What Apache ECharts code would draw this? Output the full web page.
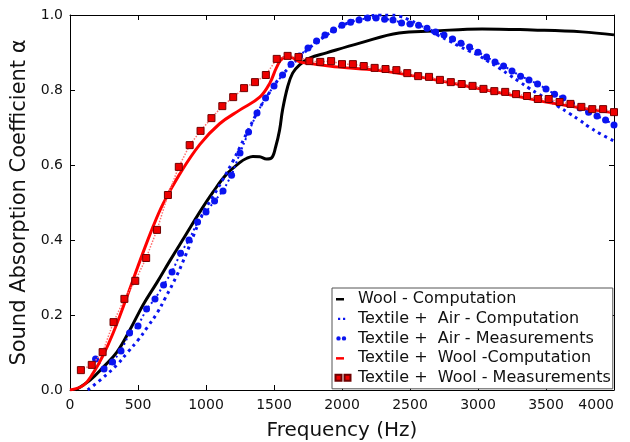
<!DOCTYPE html>
<html>
<head>
<meta charset="utf-8">
<script src="https://cdn.jsdelivr.net/npm/echarts@6/dist/echarts.min.js"></script>
<style>html,body{margin:0;padding:0;background:#fff}#c{width:630px;height:442px}</style>
</head>
<body>
<div id="c"></div>
<script>
// ---- data ----
const xTicks = [0, 500, 1000, 1500, 2000, 2500, 3000, 3500, 4000];
const yTicks = [0.0, 0.2, 0.4, 0.6, 0.8, 1.0];

const seriesNames = [
  "Wool - Computation",
  "Textile +  Air - Computation",
  "Textile +  Air - Measurements",
  "Textile +  Wool -Computation",
  "Textile +  Wool - Measurements"
];

// Wool - Computation
const freqWool = [40, 150, 240, 345, 440, 536, 640, 735, 845, 955, 1050, 1150, 1250, 1300, 1345, 1395, 1445, 1482, 1512, 1541, 1563, 1600, 1637, 1688, 1761, 1886, 2130, 2420, 2665, 3030, 3400, 3765, 4000];
const alphaWool = [0, 0.027, 0.059, 0.101, 0.16, 0.226, 0.287, 0.345, 0.41, 0.475, 0.527, 0.575, 0.607, 0.618, 0.623, 0.622, 0.616, 0.619, 0.648, 0.693, 0.747, 0.808, 0.845, 0.867, 0.885, 0.899, 0.925, 0.952, 0.957, 0.963, 0.96, 0.955, 0.947];

// Textile + Air - Computation
const freqTA = [130, 240, 345, 425, 500, 570, 640, 700, 785, 860, 915, 975, 1050, 1125, 1195, 1250, 1320, 1395, 1470, 1540, 1615, 1690, 1760, 1835, 1910, 1980, 2055, 2130, 2200, 2275, 2350, 2420, 2495, 2570, 2640, 2715, 2790, 2860, 2935, 3010, 3080, 3155, 3230, 3305, 3375, 3450, 3525, 3595, 3670, 3745, 3815, 3890, 4000];
const alphaTA = [0, 0.032, 0.067, 0.101, 0.133, 0.168, 0.205, 0.245, 0.305, 0.368, 0.418, 0.47, 0.515, 0.562, 0.608, 0.648, 0.7, 0.752, 0.795, 0.832, 0.861, 0.888, 0.912, 0.933, 0.952, 0.968, 0.981, 0.992, 0.997, 1.0, 1.0, 0.997, 0.987, 0.973, 0.96, 0.944, 0.931, 0.917, 0.904, 0.891, 0.875, 0.859, 0.84, 0.822, 0.805, 0.788, 0.772, 0.755, 0.738, 0.72, 0.702, 0.685, 0.664];

// Textile + Air - Measurements
const freqTAm = [188, 250, 313, 375, 438, 500, 563, 625, 688, 750, 813, 875, 938, 1000, 1063, 1125, 1188, 1250, 1313, 1375, 1438, 1500, 1563, 1625, 1688, 1750, 1813, 1875, 1938, 2000, 2063, 2125, 2188, 2250, 2313, 2375, 2438, 2500, 2563, 2625, 2688, 2750, 2813, 2875, 2938, 3000, 3063, 3125, 3188, 3250, 3313, 3375, 3438, 3500, 3563, 3625, 3688, 3750, 3813, 3875, 3938, 4000];
const alphaTAm = [0.083, 0.056, 0.075, 0.104, 0.152, 0.171, 0.216, 0.243, 0.28, 0.315, 0.365, 0.4, 0.448, 0.475, 0.504, 0.531, 0.573, 0.632, 0.688, 0.739, 0.779, 0.811, 0.84, 0.869, 0.891, 0.912, 0.931, 0.947, 0.96, 0.973, 0.981, 0.987, 0.992, 0.992, 0.989, 0.987, 0.979, 0.976, 0.973, 0.965, 0.955, 0.947, 0.936, 0.925, 0.915, 0.901, 0.888, 0.875, 0.864, 0.851, 0.837, 0.827, 0.816, 0.803, 0.789, 0.779, 0.763, 0.752, 0.741, 0.731, 0.72, 0.707];

// Textile + Wool - Computation
const freqTW = [0, 100, 170, 240, 315, 420, 515, 610, 685, 805, 955, 1100, 1250, 1395, 1470, 1520, 1565, 1615, 1690, 1760, 1980, 2250, 2570, 3060, 3545, 4000];
const alphaTW = [0, 0.013, 0.045, 0.09, 0.15, 0.25, 0.345, 0.435, 0.497, 0.575, 0.655, 0.71, 0.747, 0.781, 0.819, 0.861, 0.885, 0.888, 0.875, 0.871, 0.861, 0.853, 0.835, 0.8, 0.765, 0.739];

// Textile + Wool - Measurements
const freqTWm = [80, 160, 240, 320, 400, 480, 560, 640, 720, 800, 880, 960, 1040, 1120, 1200, 1280, 1360, 1440, 1520, 1600, 1680, 1760, 1840, 1920, 2000, 2080, 2160, 2240, 2320, 2400, 2480, 2560, 2640, 2720, 2800, 2880, 2960, 3040, 3120, 3200, 3280, 3360, 3440, 3520, 3600, 3680, 3760, 3840, 3920, 4000];
const alphaTWm = [0.053, 0.067, 0.101, 0.181, 0.243, 0.291, 0.352, 0.427, 0.52, 0.595, 0.653, 0.691, 0.725, 0.757, 0.781, 0.805, 0.821, 0.84, 0.883, 0.891, 0.888, 0.877, 0.875, 0.877, 0.869, 0.869, 0.864, 0.859, 0.856, 0.853, 0.845, 0.837, 0.835, 0.827, 0.821, 0.816, 0.811, 0.803, 0.797, 0.795, 0.789, 0.784, 0.776, 0.776, 0.768, 0.763, 0.755, 0.749, 0.749, 0.741];

// ---- build ----
const zip = (xs, ys) => xs.map((x, i) => [x, ys[i]]);
const FONT = "DejaVu Sans";
const BLUE = "#0a14f0";
const RED = "#ff0000";

const chart = echarts.init(document.getElementById('c'), null, {renderer: 'canvas'});

const axisCommon = {
  type: 'value',
  axisLine: {show: true, onZero: false, lineStyle: {color: '#000', width: 1}},
  axisTick: {show: true, inside: true, length: 5, lineStyle: {color: '#000', width: 1}},
  splitLine: {show: false}
};

chart.setOption({
  animation: false,
  backgroundColor: '#fff',
  grid: {left: 70, right: 16, top: 15, bottom: 52, containLabel: false, outerBoundsMode: 'none'},
  xAxis: [
    Object.assign({}, axisCommon, {
      position: 'bottom', min: xTicks[0], max: xTicks[xTicks.length - 1], interval: 500,
      name: 'Frequency (Hz)', nameLocation: 'middle', nameGap: 31,
      nameTextStyle: {fontFamily: FONT, fontSize: 20, color: '#111'},
      axisLabel: {margin: 8, fontFamily: FONT, fontSize: 14, color: '#111', alignMaxLabel: 'right',
        formatter: v => String(v)}
    }),
    Object.assign({}, axisCommon, {
      position: 'top', min: xTicks[0], max: xTicks[xTicks.length - 1], interval: 500,
      axisLabel: {show: false}
    })
  ],
  yAxis: [
    Object.assign({}, axisCommon, {
      position: 'left', min: yTicks[0], max: yTicks[yTicks.length - 1], interval: 0.2,
      name: 'Sound Absorption Coefficient α', nameLocation: 'middle', nameGap: 36,
      nameTextStyle: {fontFamily: FONT, fontSize: 21, color: '#111'},
      axisLabel: {margin: 7, fontFamily: FONT, fontSize: 14, color: '#111', formatter: v => v.toFixed(1)}
    }),
    Object.assign({}, axisCommon, {
      position: 'right', min: yTicks[0], max: yTicks[yTicks.length - 1], interval: 0.2,
      axisLabel: {show: false}
    })
  ],
  legend: {
    orient: 'vertical', left: 332, top: 288,
    padding: [3, 2, 3, 2], itemWidth: 18, itemHeight: 8, itemGap: 3.7,
    backgroundColor: '#fff', borderColor: '#555', borderWidth: 1,
    selectedMode: false, symbolKeepAspect: true,
    textStyle: {fontFamily: FONT, fontSize: 16, color: '#111'},
    data: [
      {name: seriesNames[0], icon: 'path://M0,0M18,8M1,3H9V5.5H1Z'},
      {name: seriesNames[1], icon: 'path://M0,0M18,8M3,3H5.2V5.2H3Z M8,3H10.2V5.2H8Z'},
      {name: seriesNames[2], icon: 'path://M0,0M18,8M1.3,4a2.2,2.2 0 1,0 4.4,0a2.2,2.2 0 1,0 -4.4,0Z M6.8,4a2.2,2.2 0 1,0 4.4,0a2.2,2.2 0 1,0 -4.4,0Z'},
      {name: seriesNames[3], icon: 'path://M0,0M18,8M1,3H9V5.5H1Z'},
      {name: seriesNames[4], icon: 'path://M0,0M18,8M0.5,1H6.5V7H0.5Z M9.5,1H15.5V7H9.5Z'}
    ]
  },
  series: [
    {
      name: seriesNames[0], type: 'line', data: zip(freqWool, alphaWool),
      showSymbol: false, symbol: 'none', smooth: 0.4,
      itemStyle: {color: '#000'}, lineStyle: {color: '#000', width: 3}, z: 2
    },
    {
      name: seriesNames[1], type: 'line', data: zip(freqTA, alphaTA),
      showSymbol: false, symbol: 'none', smooth: 0.4,
      itemStyle: {color: BLUE}, lineStyle: {color: BLUE, width: 3, type: [3, 4], cap: 'butt'}, z: 3
    },
    {
      name: seriesNames[2], type: 'line', data: zip(freqTAm, alphaTAm),
      symbol: 'circle', symbolSize: 7, showAllSymbol: true,
      itemStyle: {color: BLUE}, lineStyle: {color: BLUE, width: 2, type: [2, 3]}, z: 4
    },
    {
      name: seriesNames[3], type: 'line', data: zip(freqTW, alphaTW),
      showSymbol: false, symbol: 'none', smooth: 0.4,
      itemStyle: {color: RED}, lineStyle: {color: RED, width: 3}, z: 5
    },
    {
      name: seriesNames[4], type: 'line', data: zip(freqTWm, alphaTWm),
      symbol: 'rect', symbolSize: 7, showAllSymbol: true,
      itemStyle: {color: '#ee0000', borderColor: '#700000', borderWidth: 1},
      lineStyle: {color: '#ff7070', width: 1.5, type: [1.5, 1.5]}, z: 6
    }
  ]
});
</script>
</body>
</html>
